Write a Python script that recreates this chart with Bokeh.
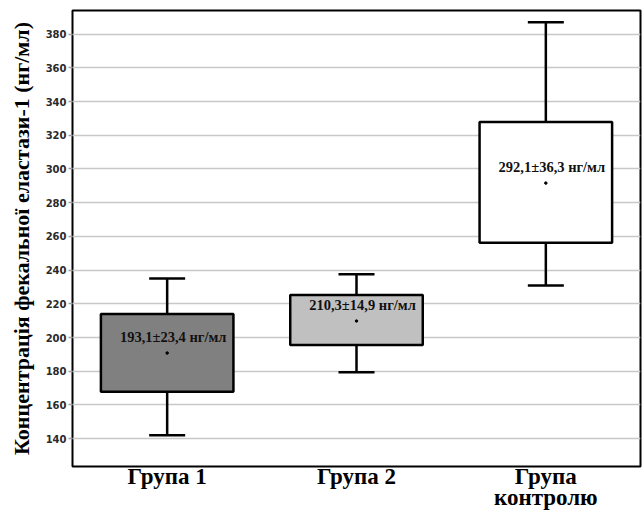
from bokeh.plotting import figure
from bokeh.models import FactorRange, Range1d, ColumnDataSource, FixedTicker
from bokeh.core.properties import value
from bokeh.embed import file_html
from bokeh.resources import INLINE

groups = ["Група 1", "Група 2", "Група\nконтролю"]
q1 = [167.8, 195.5, 256.2]
q3 = [214.0, 225.2, 327.8]
whisk_lo = [142.0, 179.4, 230.8]
whisk_hi = [235.0, 237.6, 387.0]
dot = [190.8, 209.8, 291.6]
means = ["193,1", "210,3", "292,1"]
sds = ["23,4", "14,9", "36,3"]
colors = ["#808080", "#c0c0c0", "#ffffff"]
yticks = [140, 160, 180, 200, 220, 240, 260, 280, 300, 320, 340, 360, 380]

labels = [f"{m}±{s} нг/мл" for m, s in zip(means, sds)]

src = ColumnDataSource(dict(g=groups, q1=q1, q3=q3, lo=whisk_lo, hi=whisk_hi,
                            dot=dot, lab=labels, col=colors))

p = figure(x_range=FactorRange(factors=groups, range_padding=0),
           y_range=Range1d(123.5, 394),
           width=644, height=512, output_backend="svg", toolbar_location=None,
           min_border_left=72, min_border_top=10, min_border_right=4, min_border_bottom=46)

p.background_fill_color = "white"
p.outline_line_color = "black"
p.outline_line_width = 2
p.xgrid.grid_line_color = None
p.ygrid.grid_line_color = "#c8c8c8"
p.ygrid.grid_line_width = 1.5

# whiskers
p.segment(x0="g", y0="q3", x1="g", y1="hi", source=src, line_color="black", line_width=2.5)
p.segment(x0="g", y0="q1", x1="g", y1="lo", source=src, line_color="black", line_width=2.5)
p.scatter(x="g", y="hi", source=src, marker="dash", size=36, line_color="black", line_width=2.5)
p.scatter(x="g", y="lo", source=src, marker="dash", size=36, line_color="black", line_width=2.5)
# boxes
p.vbar(x="g", width=0.7, top="q3", bottom="q1", source=src, fill_color="col",
       line_color="black", line_width=2.5)
p.scatter(x="g", y="dot", source=src, size=2.5, color="black")
p.text(x="g", y="dot", text="lab", source=src, text_font=value("Liberation Serif"),
       text_font_style="bold", text_font_size="14.5px", text_align="center",
       text_baseline="middle", x_offset=6, y_offset=-16, text_color="#111111")

p.yaxis.ticker = FixedTicker(ticks=yticks)
p.yaxis.axis_line_color = None
p.yaxis.major_tick_out = 4
p.yaxis.major_tick_in = 0
p.yaxis.major_tick_line_color = "#a0a0a0"
p.yaxis.major_tick_line_width = 1.5
p.yaxis.minor_tick_line_color = None
p.yaxis.major_label_text_font = "DejaVu Sans"
p.yaxis.major_label_text_font_style = "bold"
p.yaxis.major_label_text_font_size = "10px"
p.yaxis.major_label_text_color = "#2a2a2a"
p.yaxis.major_label_standoff = 2
p.yaxis.axis_label = "Концентрація фекальної еластази-1 (нг/мл)"
p.yaxis.axis_label_text_font = "Liberation Serif"
p.yaxis.axis_label_text_font_style = "bold"
p.yaxis.axis_label_text_font_size = "22px"
p.yaxis.axis_label_text_color = "black"
p.yaxis.axis_label_standoff = 9

p.xaxis.axis_line_color = None
p.xaxis.major_tick_line_color = None
p.xaxis.minor_tick_line_color = None
p.xaxis.major_tick_out = 0
p.xaxis.major_tick_in = 0
p.xaxis.major_label_standoff = -3
p.xaxis.major_label_text_font = "Liberation Serif"
p.xaxis.major_label_text_font_style = "bold"
p.xaxis.major_label_text_font_size = "23px"
p.xaxis.major_label_text_line_height = 0.85
p.xaxis.major_label_text_color = "black"

open("out.html", "w").write(file_html(p, INLINE))
